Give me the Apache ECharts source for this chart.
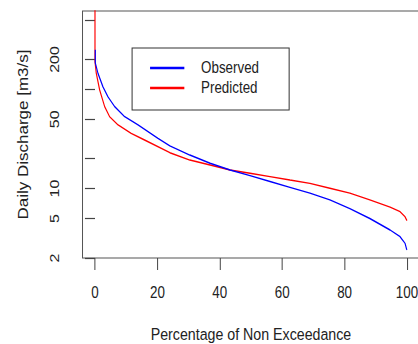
<!DOCTYPE html>
<html>
<head>
<meta charset="utf-8">
<script src="https://cdn.jsdelivr.net/npm/echarts@6/dist/echarts.min.js"></script>
<style>
  html, body { margin: 0; padding: 0; background: #fff; overflow: hidden; width: 418px; height: 344px; }
  #chart { width: 500px; height: 344px; transform: scaleX(0.836); transform-origin: 0 0; }
</style>
</head>
<body>
<div id="chart"></div>
<script>
// Percent of non exceedance (x) and daily discharge in m3/s (y)
const observedPct = [0.1, 0.1, 0.96, 2.56, 4.17, 6.31, 9.52, 13.8, 20.2, 24.0, 30.4, 36.9, 43.3, 49.7, 56.1, 62.5, 68.9, 75.3, 81.7, 88.1, 94.6, 97.8, 99.4, 99.9, 100];
const observedQ   = [250, 185, 145, 106, 84, 67, 53, 43.8, 32.1, 26.9, 21.8, 18.0, 15.4, 13.5, 11.8, 10.3, 9.0, 7.7, 6.3, 5.0, 3.83, 3.28, 2.81, 2.45, 2.41];

const predictedPct = [0, 0, 0.42, 1.5, 3.1, 4.7, 7.4, 11.6, 15.9, 24.0, 30.4, 36.9, 43.3, 49.7, 56.1, 62.5, 68.9, 75.3, 81.7, 88.1, 94.6, 97.8, 99.4, 100];
const predictedQ   = [900, 190, 145, 98.6, 67, 53, 43.8, 36.1, 30.9, 23.0, 19.4, 17.3, 15.4, 14.3, 13.2, 12.2, 11.3, 10.1, 9.0, 7.7, 6.5, 5.86, 5.2, 4.75];

const xTickValues = [0, 20, 40, 60, 80, 100];
const yTickValues = [2, 5, 10, 20, 50, 100, 200, 500];
const yLabelValues = [2, 5, 10, 50, 200];

const seriesNames = ['Observed', 'Predicted'];
const seriesColors = ['#0000ff', '#ff0000'];

const font = "'Liberation Sans', Arial, sans-serif";
const chart = echarts.init(document.getElementById('chart'), null, { renderer: 'svg', width: 500, height: 344 });

function pairs(xs, ys) { return xs.map((x, i) => [x, ys[i]]); }

chart.setOption({
  animation: false,
  backgroundColor: '#ffffff',
  textStyle: { fontFamily: font },
  grid: { left: 98.7, top: 11, width: 403, height: 247, show: true, borderColor: '#555', borderWidth: 1.2,
          containLabel: false, outerBoundsMode: 'none' },
  legend: {
    left: 158, top: 48, orient: 'vertical',
    data: seriesNames,
    icon: 'rect',
    itemWidth: 41, itemHeight: 2.6, itemGap: -5,
    padding: [7.5, 36, 9.5, 21.5],
    borderColor: '#333', borderWidth: 1.2, borderRadius: 0,
    textStyle: { fontSize: 16, color: '#222', fontFamily: font, lineHeight: 16, padding: [9, 0, 0, 15] }
  },
  xAxis: {
    type: 'value', min: -4, max: 104,
    name: 'Percentage of Non Exceedance', nameLocation: 'middle', nameGap: 68,
    nameTextStyle: { fontSize: 17, color: '#222', fontFamily: font },
    axisLine: { show: false },
    axisTick: { show: true, customValues: xTickValues, length: 12, lineStyle: { color: '#444', width: 1.2 } },
    axisLabel: { customValues: xTickValues, fontSize: 16, color: '#222', margin: 27, fontFamily: font },
    splitLine: { show: false }
  },
  yAxis: {
    type: 'log', logBase: 10, min: 2, max: 616,
    name: 'Daily Discharge [m3/s]', nameLocation: 'middle', nameGap: 63,
    nameTextStyle: { fontSize: 17, color: '#222', fontFamily: font },
    axisLine: { show: false },
    axisTick: { show: true, customValues: yTickValues, length: 12, lineStyle: { color: '#444', width: 1.2 } },
    axisLabel: { customValues: yLabelValues, rotate: 90, fontSize: 16, color: '#222', margin: 26, fontFamily: font },
    minorTick: { show: false },
    splitLine: { show: false }
  },
  series: [
    { name: seriesNames[0], type: 'line', data: pairs(observedPct, observedQ), symbol: 'none', showSymbol: false,
      lineStyle: { color: seriesColors[0], width: 1.4 }, itemStyle: { color: seriesColors[0] }, clip: true, z: 3 },
    { name: seriesNames[1], type: 'line', data: pairs(predictedPct, predictedQ), symbol: 'none', showSymbol: false,
      lineStyle: { color: seriesColors[1], width: 1.4 }, itemStyle: { color: seriesColors[1] }, clip: true, z: 2 }
  ]
});
</script>
</body>
</html>
